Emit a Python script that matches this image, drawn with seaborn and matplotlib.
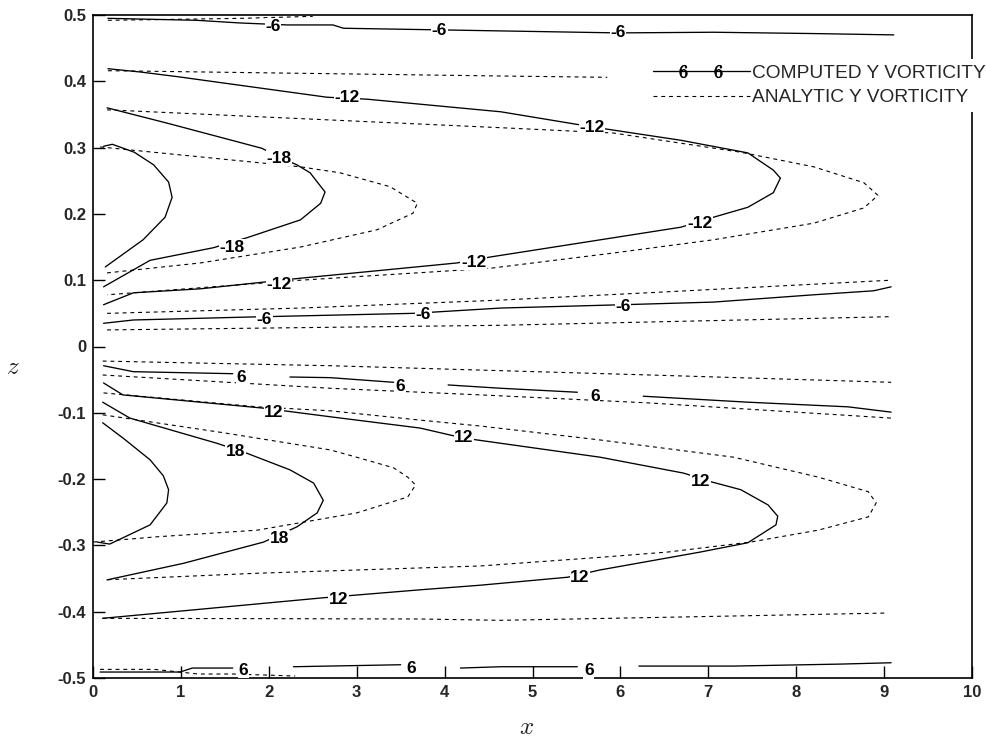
import numpy as np
import pandas as pd
import matplotlib
matplotlib.use("Agg")
import matplotlib.pyplot as plt
import seaborn as sns
from matplotlib.lines import Line2D
from matplotlib.legend_handler import HandlerLine2D

sns.set_theme(style="white")
plt.rcParams["font.family"] = ["Liberation Sans", "DejaVu Sans"]
plt.rcParams["mathtext.fontset"] = "cm"

# ---------------- data ----------------
x_ticks = [0, 1, 2, 3, 4, 5, 6, 7, 8, 9, 10]
x_tick_labels = ["0", "1", "2", "3", "4", "5", "6", "7", "8", "9", "10"]
z_ticks = [-0.5, -0.4, -0.3, -0.2, -0.1, 0.0, 0.1, 0.2, 0.3, 0.4, 0.5]
z_tick_labels = ["-0.5", "-0.4", "-0.3", "-0.2", "-0.1", "0", "0.1", "0.2", "0.3", "0.4", "0.5"]

# computed vorticity contours (solid)
c_m6_top_x = [0.17, 1.18, 1.67, 2.21, 2.73, 2.85, 4.64, 5.97, 7.06, 8.20, 9.11]
c_m6_top_z = [0.495, 0.492, 0.488, 0.485, 0.485, 0.480, 0.476, 0.473, 0.474, 0.472, 0.470]
c_m12_x = [0.17, 0.54, 0.96, 2.66, 3.12, 4.64, 5.69, 6.69, 7.45, 7.74, 7.82, 7.74, 7.45, 7.06,
           6.69, 5.92, 4.52, 4.14, 2.36, 1.22, 0.46, 0.12]
c_m12_z = [0.419, 0.414, 0.407, 0.376, 0.373, 0.354, 0.331, 0.311, 0.292, 0.266, 0.254, 0.232,
           0.210, 0.195, 0.180, 0.164, 0.135, 0.126, 0.103, 0.087, 0.081, 0.063]
c_m18_x = [0.16, 0.84, 1.92, 2.13, 2.32, 2.47, 2.64, 2.59, 2.36, 1.75, 1.37, 0.65, 0.12]
c_m18_z = [0.360, 0.337, 0.299, 0.285, 0.274, 0.262, 0.233, 0.216, 0.191, 0.164, 0.149, 0.130, 0.090]
c_m24_x = [0.12, 0.22, 0.47, 0.69, 0.86, 0.90, 0.82, 0.57, 0.14]
c_m24_z = [0.302, 0.305, 0.293, 0.274, 0.248, 0.225, 0.195, 0.161, 0.120]
c_m6_low_x = [0.12, 0.46, 1.79, 3.64, 4.64, 6.02, 7.06, 8.20, 8.88, 9.08]
c_m6_low_z = [0.035, 0.040, 0.0445, 0.050, 0.058, 0.063, 0.067, 0.078, 0.084, 0.090]

c_p6_1_x = [0.12, 0.46, 1.59]
c_p6_1_z = [-0.029, -0.038, -0.041]
c_p6_2_x = [2.24, 2.70, 3.42]
c_p6_2_z = [-0.046, -0.047, -0.054]
c_p6_3_x = [4.04, 4.64, 5.51]
c_p6_3_z = [-0.058, -0.063, -0.069]
c_p6_4_x = [6.26, 7.45, 8.59, 9.08]
c_p6_4_z = [-0.075, -0.084, -0.091, -0.099]
c_p12_x = [0.12, 0.34, 1.94, 2.70, 3.72, 4.21, 5.77, 6.72, 7.03, 7.37, 7.68, 7.79, 7.77, 7.45,
           6.91, 5.77, 5.40, 4.41, 3.72, 2.62, 0.11]
c_p12_z = [-0.055, -0.073, -0.093, -0.106, -0.123, -0.138, -0.167, -0.191, -0.204, -0.216,
           -0.239, -0.256, -0.269, -0.296, -0.310, -0.337, -0.348, -0.360, -0.367, -0.379, -0.410]
c_p18_x = [0.11, 0.42, 1.41, 1.75, 2.24, 2.51, 2.62, 2.55, 2.32, 1.94, 1.03, 0.16]
c_p18_z = [-0.084, -0.108, -0.146, -0.161, -0.186, -0.206, -0.232, -0.251, -0.272, -0.295,
           -0.327, -0.352]
c_p24_x = [0.11, 0.36, 0.65, 0.80, 0.86, 0.84, 0.65, 0.19, 0.05]
c_p24_z = [-0.115, -0.140, -0.171, -0.195, -0.216, -0.236, -0.269, -0.298, -0.295]
c_p6_b1_x = [0.08, 0.99, 1.13, 1.59]
c_p6_b1_z = [-0.491, -0.491, -0.485, -0.485]
c_p6_b2_x = [2.28, 3.50]
c_p6_b2_z = [-0.483, -0.480]
c_p6_b3_x = [4.18, 4.64, 5.51]
c_p6_b3_z = [-0.485, -0.483, -0.483]
c_p6_b4_x = [6.21, 7.29, 8.51, 9.08]
c_p6_b4_z = [-0.482, -0.482, -0.479, -0.477]

# analytic vorticity contours (dashed)
a_m6_top_x = [0.17, 0.70, 1.70, 2.50]
a_m6_top_z = [0.492, 0.493, 0.495, 0.498]
a_m12_top_x = [0.17, 4.64, 5.85]
a_m12_top_z = [0.416, 0.408, 0.406]
a_m18_x = [0.16, 1.98, 4.64, 5.92, 7.37, 8.20, 8.77, 8.93, 8.77, 8.20, 7.06, 5.92, 4.52, 2.36, 0.16]
a_m18_z = [0.357, 0.346, 0.330, 0.322, 0.293, 0.271, 0.247, 0.228, 0.209, 0.186, 0.161, 0.141,
           0.118, 0.100, 0.078]
a_m24_x = [0.08, 1.22, 2.36, 2.81, 3.38, 3.69, 3.64, 3.23, 2.36, 1.22, 0.16]
a_m24_z = [0.301, 0.286, 0.271, 0.262, 0.241, 0.216, 0.201, 0.176, 0.150, 0.126, 0.111]
a_m12_low_x = [0.16, 2.36, 4.64, 6.31, 9.08]
a_m12_low_z = [0.050, 0.058, 0.070, 0.081, 0.100]
a_m6_low_x = [0.16, 4.64, 9.08]
a_m6_low_z = [0.025, 0.032, 0.045]

a_p6_top_x = [0.11, 2.70, 6.34, 9.08]
a_p6_top_z = [-0.022, -0.029, -0.043, -0.054]
a_p12_up_x = [0.11, 2.70, 4.41, 6.31, 9.08]
a_p12_up_z = [-0.043, -0.063, -0.073, -0.085, -0.108]
a_p18_x = [0.12, 1.87, 2.70, 3.72, 4.41, 5.77, 7.29, 8.25, 8.82, 8.91, 8.82, 8.25, 7.48, 6.54,
           5.77, 4.41, 3.72, 1.87, 0.12]
a_p18_z = [-0.070, -0.091, -0.097, -0.111, -0.120, -0.141, -0.167, -0.197, -0.219, -0.236,
           -0.257, -0.277, -0.295, -0.310, -0.318, -0.331, -0.334, -0.342, -0.352]
a_p24_x = [0.11, 1.48, 2.70, 3.00, 3.42, 3.58, 3.67, 3.58, 3.00, 1.87, 0.73, 0.00]
a_p24_z = [-0.103, -0.130, -0.156, -0.167, -0.183, -0.197, -0.209, -0.227, -0.251, -0.277,
           -0.287, -0.295]
a_p12_bot_x = [0.11, 3.72, 4.64, 6.69, 9.04]
a_p12_bot_z = [-0.410, -0.411, -0.413, -0.408, -0.402]
a_p6_bot_x = [0.08, 0.70, 1.20, 1.60, 2.30]
a_p6_bot_z = [-0.487, -0.487, -0.494, -0.494, -0.497]

# contour labels
label_text = ["-6", "-6", "-6", "-12", "-12", "-18", "-18", "-12", "-12", "-12", "-6", "-6", "-6",
              "6", "6", "6", "12", "12", "12", "18", "18", "12", "12", "6", "6", "6"]
label_x = [2.05, 3.94, 5.97, 2.89, 5.68, 2.12, 1.58, 6.90, 4.33, 2.12, 1.95, 3.76, 6.03,
           1.69, 3.50, 5.71, 2.06, 4.22, 6.91, 1.62, 2.12, 2.79, 5.54, 1.71, 3.62, 5.64]
label_z = [0.483, 0.476, 0.473, 0.375, 0.331, 0.284, 0.150, 0.186, 0.127, 0.094, 0.041, 0.049, 0.061,
           -0.047, -0.060, -0.076, -0.099, -0.137, -0.204, -0.159, -0.289, -0.381, -0.348,
           -0.488, -0.486, -0.489]

computed_lines = [(c_m6_top_x, c_m6_top_z), (c_m12_x, c_m12_z), (c_m18_x, c_m18_z),
                  (c_m24_x, c_m24_z), (c_m6_low_x, c_m6_low_z),
                  (c_p6_1_x, c_p6_1_z), (c_p6_2_x, c_p6_2_z), (c_p6_3_x, c_p6_3_z),
                  (c_p6_4_x, c_p6_4_z), (c_p12_x, c_p12_z), (c_p18_x, c_p18_z),
                  (c_p24_x, c_p24_z), (c_p6_b1_x, c_p6_b1_z), (c_p6_b2_x, c_p6_b2_z),
                  (c_p6_b3_x, c_p6_b3_z), (c_p6_b4_x, c_p6_b4_z)]
analytic_lines = [(a_m6_top_x, a_m6_top_z), (a_m12_top_x, a_m12_top_z), (a_m18_x, a_m18_z),
                  (a_m24_x, a_m24_z), (a_m12_low_x, a_m12_low_z), (a_m6_low_x, a_m6_low_z),
                  (a_p6_top_x, a_p6_top_z), (a_p12_up_x, a_p12_up_z), (a_p18_x, a_p18_z),
                  (a_p24_x, a_p24_z), (a_p12_bot_x, a_p12_bot_z), (a_p6_bot_x, a_p6_bot_z)]


def to_frame(lines):
    rows = []
    for i, (xs, zs) in enumerate(lines):
        for k, (xv, zv) in enumerate(zip(xs, zs)):
            rows.append({"seg": i, "order": k, "x": xv, "z": zv})
    return pd.DataFrame(rows)


df_comp = to_frame(computed_lines)
df_anal = to_frame(analytic_lines)

# ---------------- figure ----------------
fig = plt.figure(figsize=(9.86, 7.41), dpi=100)
ax = fig.add_axes([93 / 986, 1 - 678 / 741, (972 - 93) / 986, (678 - 15) / 741])

sns.lineplot(data=df_comp, x="x", y="z", units="seg", estimator=None, sort=False,
             color="black", linewidth=0.95, ax=ax, legend=False)
sns.lineplot(data=df_anal, x="x", y="z", units="seg", estimator=None, sort=False,
             color="black", linewidth=0.8, linestyle=(0, (3.5, 3.5)), ax=ax, legend=False)

for t, xv, zv in zip(label_text, label_x, label_z):
    ax.text(xv, zv, t, ha="center", va="center", fontsize=12.5, fontweight="bold",
            color="black", zorder=4,
            bbox=dict(facecolor="white", edgecolor="none", pad=0.4))

ax.set_xlim(0, 10)
ax.set_ylim(-0.5, 0.5)
ax.set_xticks(x_ticks)
ax.set_xticklabels(x_tick_labels)
ax.set_yticks(z_ticks)
ax.set_yticklabels(z_tick_labels)
ax.tick_params(axis="both", direction="in", length=8.5, width=1.0, color="black",
               labelsize=12, pad=5, bottom=True, left=True, top=False, right=False)
for lab in ax.get_xticklabels() + ax.get_yticklabels():
    lab.set_fontweight("bold")
for sp in ax.spines.values():
    sp.set_visible(True)
    sp.set_color("black")
    sp.set_linewidth(1.2)

ax.set_xlabel("$x$", fontsize=18)
ax.set_ylabel("$z$", fontsize=18, rotation=0)
ax.xaxis.label.set_va("center")
ax.yaxis.label.set_va("center")
ax.yaxis.label.set_ha("center")
ax.xaxis.set_label_coords((527 - 93) / 879, (678 - 727) / 663)
ax.yaxis.set_label_coords((13 - 93) / 879, (678 - 367) / 663)


class SixHandler(HandlerLine2D):
    def create_artists(self, legend, orig_handle, xdescent, ydescent, width, height,
                       fontsize, trans):
        y = (height - ydescent) / 2
        line = Line2D([-xdescent, width - xdescent], [y, y])
        self.update_prop(line, orig_handle, legend)
        line.set_marker("None")
        mk = Line2D(-xdescent + width * np.array([0.31, 0.67]), [y, y])
        self.update_prop(mk, orig_handle, legend)
        mk.set_linestyle("None")
        line.set_transform(trans)
        mk.set_transform(trans)
        return [line, mk]


h_comp = Line2D([], [], color="black", linewidth=0.95, marker="$6$", markersize=9,
                markerfacecolor="black", markeredgecolor="black", markeredgewidth=0.5)
h_anal = Line2D([], [], color="black", linewidth=0.8, linestyle=(0, (3.5, 3.5)))
leg = ax.legend([h_comp, h_anal], ["COMPUTED Y VORTICITY", "ANALYTIC Y VORTICITY"],
                loc="upper left", bbox_to_anchor=(647 / 986, 1 - 59 / 741),
                bbox_transform=fig.transFigure, borderaxespad=0, borderpad=0.3,
                handlelength=5.05, handletextpad=0.15, labelspacing=0.36, fontsize=13.8,
                frameon=True, fancybox=False, framealpha=1.0,
                handler_map={h_comp: SixHandler()})
leg.get_frame().set_facecolor("white")
leg.get_frame().set_edgecolor("none")
leg.set_zorder(5)

fig.savefig("out.png", dpi=100)
